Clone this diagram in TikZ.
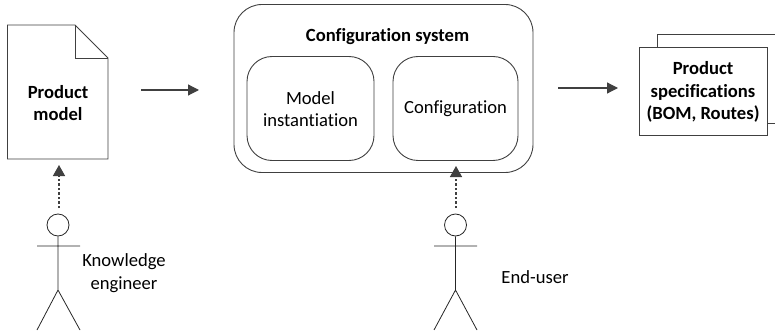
\documentclass[tikz,border=0pt]{standalone}
\usepackage{fontspec}
\setmainfont[Ligatures=NoCommon]{Carlito}
\usetikzlibrary{arrows.meta}
\definecolor{ink}{HTML}{404040}
\definecolor{tip}{HTML}{404040}
\tikzset{
  x=1pt,y=-1pt,
  outline/.style={draw=ink,line width=0.9pt},
  boxed/.style={outline,fill=white,rectangle,inner sep=0pt,align=center},
  rbox/.style={boxed,rounded corners=#1},
  lab/.style={font=\fontsize{18.6}{22.3}\selectfont,align=center,inner sep=0pt,text=black},
  blab/.style={lab,font=\fontsize{18.6}{22.3}\selectfont\bfseries},
  flow/.style={draw=ink,line width=1.2pt,-{Triangle[length=11pt,width=11pt,fill=tip]}},
  dotflow/.style={draw=ink,line width=1.4pt,dash pattern=on 2.5pt off 2pt,-{Triangle[length=11pt,width=12pt,fill=tip]}},
  stick/.style={draw=black!85,line width=0.8pt},
  head/.style={circle,draw=black!85,line width=0.8pt,minimum size=22pt,inner sep=0pt},
}
\begin{document}
\begin{tikzpicture}
\useasboundingbox (0,0) rectangle (775,331);
% document
\draw[outline,fill=white] (7.5,25) -- (75,25) -- (108,58) -- (108,159) -- (7.5,159) -- cycle;
\draw[outline] (75,25) -- (75,58) -- (108,58);
\node[blab] (pm) at (58,103) {Product\\model};
% system
\node[rbox=28pt,minimum width=299pt,minimum height=168pt] (sys) at (383.5,88.5) {};
\node[blab] (systitle) at (387.5,37) {Configuration system};
\node[rbox=25pt,minimum width=127pt,minimum height=104pt] (mi) at (310.5,108.5) {};
\node[lab] at (mi.center) [yshift=-0.5pt] {Model\\instantiation};
\node[rbox=25pt,minimum width=125pt,minimum height=104pt] (cf) at (455.5,108.5) {};
\node[lab] at (455.5,109) {Configuration};
% specifications
\draw[outline] (657.5,47) -- (657.5,34.5) -- (775,34.5);
\draw[outline] (767,123) -- (775,123);
\node[boxed,minimum width=128pt,minimum height=88pt] (ps) at (703,91) {};
\node[blab] at (703,92) {Product\\specifications\\(BOM, Routes)};
% flow arrows
\coordinate (a1s) at (141,90);
\coordinate (a1e) at (199,90);
\coordinate (a2s) at (558,88);
\coordinate (a2e) at (618,88);
\draw[flow] (a1s) -- (a1e);
\draw[flow] (a2s) -- (a2e);
% actors
\node[head] (h1) at (58,225) {};
\node[head] (h2) at (455.5,225) {};
\coordinate (hip1) at (58,290);
\coordinate (hip2) at (455.5,290);
\coordinate (l1) at (37,330); \coordinate (r1) at (80,330);
\coordinate (l2) at (434,330); \coordinate (r2) at (477,330);
\coordinate (al1) at (37,246); \coordinate (ar1) at (80,246);
\coordinate (al2) at (434,246); \coordinate (ar2) at (477,246);
\draw[stick] (h1) -- (hip1) (al1) -- (ar1) (l1) -- (hip1) -- (r1);
\draw[stick] (h2) -- (hip2) (al2) -- (ar2) (l2) -- (hip2) -- (r2);
\coordinate (d1s) at (59,208); \coordinate (d1e) at (59,165);
\coordinate (d2s) at (456,208); \coordinate (d2e) at (456,166);
\draw[dotflow] (d1s) -- (d1e);
\draw[dotflow] (d2s) -- (d2e);
\node[lab] (ke) at (124,273) {Knowledge\\engineer};
\node[lab] (eu) at (535,277) {End-user};
\end{tikzpicture}
\end{document}
